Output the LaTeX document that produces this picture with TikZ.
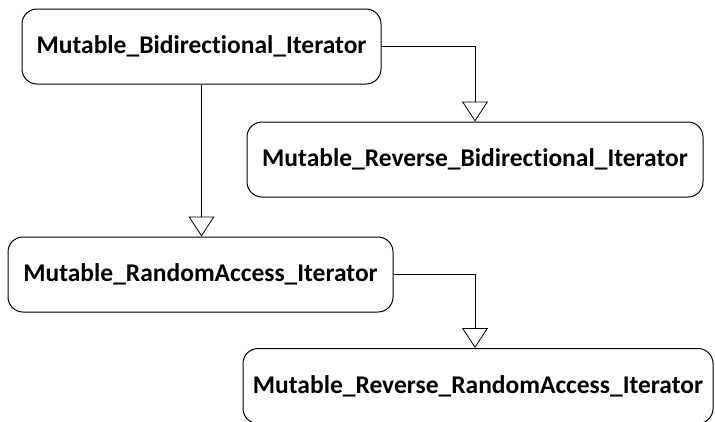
\documentclass[tikz,border=0pt]{standalone}
\usepackage{fontspec}
\setmainfont[Ligatures=NoCommon]{Carlito}
\usetikzlibrary{positioning, arrows.meta}

\begin{document}
\begin{tikzpicture}[x=1pt, y=-1pt,
	iter/.style={draw, rounded corners=15pt, line width=1pt, minimum height=75pt, inner xsep=8pt, font=\fontsize{25.5}{30}\selectfont\bfseries},
	inherit/.style={-{Triangle[open, length=20pt, width=26pt]}, line width=0.8pt}]
			\clip (0,0) rectangle (715,421);
			
			\node[iter, minimum width=359pt] (mbi) at (201.5,46.5) {Mutable\_Bidirectional\_Iterator};
			\node[iter, minimum width=456pt] (mrbi) at (475,159.5) {Mutable\_Reverse\_Bidirectional\_Iterator};
			\node[iter, minimum width=385pt] (mrai) at (200.5,274.5) {Mutable\_RandomAccess\_Iterator};
			\node[iter, minimum width=470pt] (mrrai) at (478,386) {Mutable\_Reverse\_RandomAccess\_Iterator};
			
			\draw[inherit] (mbi.east) -| (mrbi.north);
			\draw[inherit] (mbi.south) -- (mrai.north -| mbi.south);
			\draw[inherit] (mrai.east) -| ([xshift=-3pt]mrrai.north);
			
			\end{tikzpicture}
\end{document}
